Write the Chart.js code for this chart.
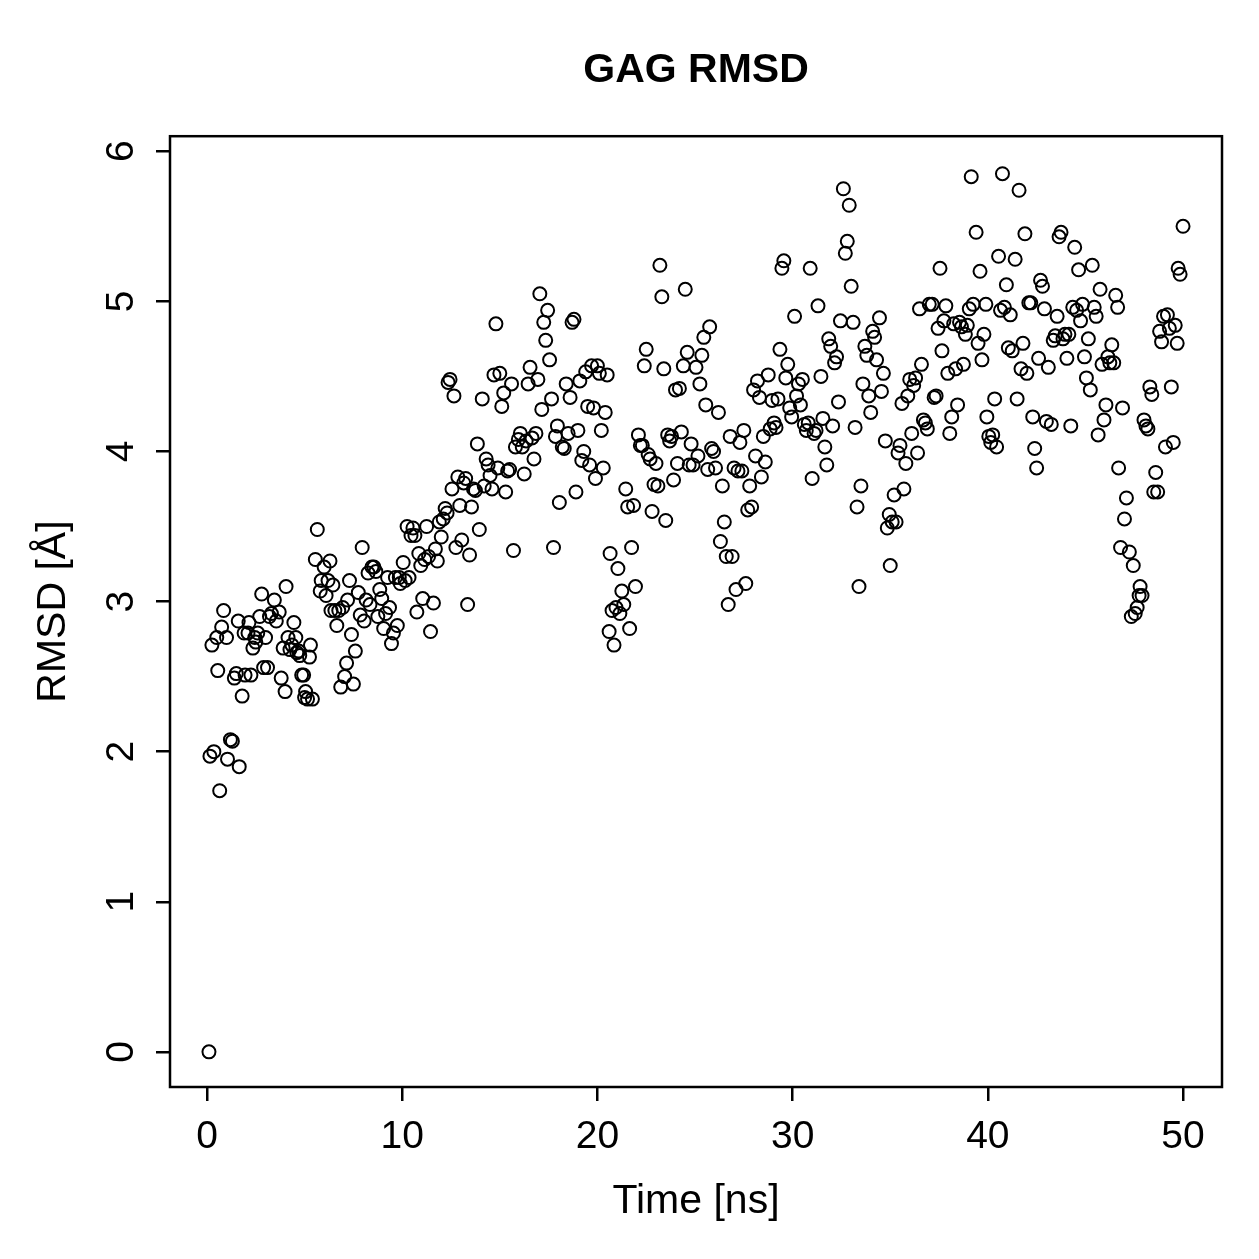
<!DOCTYPE html>
<html>
<head>
<meta charset="utf-8">
<title>GAG RMSD</title>
<script src="https://cdn.jsdelivr.net/npm/chart.js@4.4.0/dist/chart.umd.min.js"></script>
<style>
html, body { margin: 0; padding: 0; background: #fff; }
canvas { display: block; }
</style>
</head>
<body>
<canvas id="rmsdChart" width="1259" height="1259"></canvas>
<script>
// values, time in ns and RMSD in Angstrom
const timeNs = [
  0.1, 0.15, 0.25, 0.35, 0.5, 0.55, 0.65, 0.75, 0.85, 1.0, 1.05, 1.2, 1.3, 1.4, 1.5, 1.6, 1.65, 1.8, 1.9, 1.95,
  2.1, 2.15, 2.25, 2.35, 2.45, 2.5, 2.6, 2.7, 2.8, 2.9, 3.0, 3.1, 3.2, 3.3, 3.45, 3.55, 3.7, 3.8, 3.9, 4.0,
  4.05, 4.15, 4.25, 4.35, 4.45, 4.55, 4.6, 4.7, 4.75, 4.85, 4.95, 5.0,
  5.05, 5.15, 5.25, 5.3, 5.4, 5.55, 5.65, 5.8, 5.85, 6.0, 6.1, 6.2, 6.3, 6.35, 6.45, 6.55, 6.65, 6.75, 6.85, 6.95,
  7.05, 7.15, 7.2, 7.3, 7.4, 7.5, 7.6, 7.75, 7.85, 7.95, 8.05, 8.15, 8.25, 8.35, 8.45, 8.55, 8.65, 8.75, 8.85, 8.95,
  9.05, 9.15, 9.25, 9.35, 9.45, 9.55, 9.65, 9.75, 9.85, 9.9,
  10.05, 10.15, 10.25, 10.35, 10.45, 10.55, 10.65, 10.75, 10.85, 10.95, 11.05, 11.15, 11.25, 11.35, 11.45, 11.6,
  11.7, 11.8, 11.9, 12.0, 12.1, 12.2, 12.3, 12.35, 12.45, 12.55, 12.65, 12.75, 12.85, 12.95, 13.05, 13.15, 13.25,
  13.35, 13.45, 13.55, 13.65, 13.75, 13.85, 13.95, 14.1, 14.2, 14.3, 14.4, 14.5, 14.6, 14.7, 14.8, 14.9,
  15.0, 15.1, 15.2, 15.3, 15.4, 15.5, 15.6, 15.7, 15.8, 15.95, 16.05, 16.15, 16.25, 16.35, 16.45, 16.55, 16.65,
  16.75, 16.85, 16.95, 17.05, 17.15, 17.25, 17.35, 17.45, 17.55, 17.65, 17.75, 17.85, 17.95, 18.05, 18.2, 18.3,
  18.4, 18.5, 18.6, 18.7, 18.8, 18.9, 19.0, 19.1, 19.2, 19.3, 19.4, 19.5, 19.6, 19.7, 19.8, 19.9,
  20.0, 20.1, 20.2, 20.3, 20.4, 20.5, 20.6, 20.65, 20.75, 20.85, 20.95, 21.05, 21.15, 21.25, 21.35, 21.45, 21.55,
  21.65, 21.75, 21.85, 21.95, 22.1, 22.2, 22.3, 22.4, 22.5, 22.6, 22.7, 22.8, 22.9, 23.0, 23.1, 23.2, 23.3, 23.4,
  23.5, 23.6, 23.7, 23.8, 23.9, 24.0, 24.1, 24.2, 24.3, 24.4, 24.5, 24.6, 24.7, 24.8, 24.9,
  25.05, 25.15, 25.25, 25.35, 25.45, 25.55, 25.65, 25.75, 25.85, 25.95, 26.05, 26.2, 26.3, 26.4, 26.5, 26.6, 26.7,
  26.8, 26.9, 27.0, 27.1, 27.2, 27.3, 27.4, 27.5, 27.6, 27.7, 27.8, 27.9, 28.0, 28.1, 28.2, 28.3, 28.4, 28.5,
  28.6, 28.75, 28.85, 28.95, 29.05, 29.15, 29.25, 29.35, 29.45, 29.55, 29.65, 29.75, 29.85, 29.95,
  30.1, 30.2, 30.3, 30.4, 30.5, 30.6, 30.7, 30.8, 30.9, 31.0, 31.1, 31.2, 31.3, 31.45, 31.55, 31.65, 31.75, 31.85,
  31.95, 32.05, 32.15, 32.25, 32.35, 32.45, 32.6, 32.7, 32.8, 32.9, 33.0, 33.1, 33.2, 33.3, 33.4, 33.5, 33.6, 33.7,
  33.8, 33.9, 34.0, 34.1, 34.2, 34.3, 34.45, 34.55, 34.65, 34.75, 34.85, 34.95,
  35.0, 35.1, 35.2, 35.3, 35.4, 35.5, 35.6, 35.7, 35.8, 35.9, 36.0, 36.1, 36.2, 36.3, 36.4, 36.5, 36.6, 36.7,
  36.8, 36.9, 37.0, 37.15, 37.25, 37.35, 37.45, 37.55, 37.65, 37.75, 37.85, 37.95, 38.05, 38.15, 38.25, 38.35,
  38.45, 38.55, 38.65, 38.75, 38.85, 38.95, 39.05, 39.15, 39.25, 39.4, 39.5, 39.6, 39.7, 39.8, 39.9, 39.95,
  40.05, 40.15, 40.25, 40.35, 40.45, 40.55, 40.65, 40.75, 40.85, 40.95, 41.05, 41.15, 41.25, 41.4, 41.5, 41.6,
  41.7, 41.8, 41.9, 42.0, 42.1, 42.2, 42.3, 42.4, 42.5, 42.6, 42.7, 42.8, 42.9, 43.0, 43.1, 43.25, 43.35, 43.45,
  43.55, 43.65, 43.75, 43.85, 43.95, 44.05, 44.15, 44.25, 44.35, 44.45, 44.55, 44.65, 44.75, 44.85, 44.95,
  45.05, 45.15, 45.25, 45.35, 45.45, 45.55, 45.65, 45.75, 45.85, 45.95, 46.05, 46.15, 46.25, 46.35, 46.45, 46.55,
  46.65, 46.7, 46.8, 46.9, 47.0, 47.1, 47.25, 47.35, 47.45, 47.55, 47.65, 47.75, 47.8, 47.9, 48.0, 48.1, 48.2,
  48.3, 48.4, 48.5, 48.6, 48.7, 48.8, 48.9, 49.0, 49.1, 49.2, 49.3, 49.4, 49.5, 49.6, 49.7, 49.75, 49.85, 50.0
];
const rmsdA = [
  0.00, 1.97, 2.71, 2.00, 2.76, 2.54, 1.74, 2.83, 2.94, 2.76, 1.95, 2.08, 2.07, 2.49, 2.52, 2.87, 1.90, 2.37, 2.79, 2.51,
  2.79, 2.86, 2.51, 2.69, 2.76, 2.73, 2.79, 2.90, 3.05, 2.56, 2.76, 2.56, 2.90, 2.92, 3.01, 2.87, 2.93, 2.49, 2.69, 2.40,
  3.10, 2.76, 2.68, 2.71, 2.86, 2.76, 2.66, 2.67, 2.64, 2.51, 2.51, 2.36,
  2.40, 2.35, 2.63, 2.71, 2.35, 3.28, 3.48, 3.07, 3.14, 3.23, 3.04, 3.14, 3.27, 2.94, 3.11, 2.94, 2.84, 2.94, 2.43, 2.96,
  2.50, 2.59, 3.01, 3.14, 2.78, 2.45, 2.67, 3.06, 2.91, 3.36, 2.87, 3.01, 3.19, 2.98, 3.23, 3.23, 3.20, 2.90, 3.08, 3.02,
  2.82, 2.92, 3.16, 2.96, 2.72, 2.79, 3.16, 2.84, 3.16, 3.12,
  3.26, 3.14, 3.50, 3.16, 3.44, 3.49, 3.44, 2.93, 3.32, 3.24, 3.02, 3.28, 3.50, 3.30, 2.80, 2.99,
  3.35, 3.27, 3.53, 3.43, 3.55, 3.62, 3.59, 4.46, 4.48, 3.75, 4.37, 3.36, 3.83, 3.64, 3.41, 3.79, 3.82,
  2.98, 3.31, 3.63, 3.75, 3.74, 4.05, 3.48, 4.35, 3.77, 3.95, 3.91, 3.84, 3.75, 4.51, 4.85, 3.89,
  4.52, 4.30, 4.39, 3.73, 3.87, 3.88, 4.45, 3.34, 4.03, 4.08, 4.12, 4.03, 3.85, 4.07, 4.45, 4.56, 4.09,
  3.95, 4.12, 4.48, 5.05, 4.28, 4.86, 4.74, 4.94, 4.61, 4.35, 3.36, 4.10, 4.17, 3.66, 4.03, 4.02,
  4.45, 4.12, 4.36, 4.86, 4.88, 3.73, 4.14, 4.47, 3.94, 4.00, 4.53, 4.30, 3.91, 4.57, 4.29, 3.82,
  4.57, 4.52, 4.14, 3.89, 4.26, 4.51, 2.80, 3.32, 2.94, 2.71, 2.96, 3.22, 2.92, 3.07, 2.98, 3.75, 3.63,
  2.82, 3.36, 3.64, 3.10, 4.11, 4.04, 4.04, 4.57, 4.68, 3.98, 3.95, 3.60, 3.78, 3.92, 3.77, 5.24, 5.03, 4.55,
  3.54, 4.11, 4.07, 4.10, 3.81, 4.41, 3.92, 4.42, 4.13, 4.57, 5.08, 4.66, 3.91, 4.05, 3.91,
  4.56, 3.97, 4.45, 4.64, 4.76, 4.31, 3.88, 4.83, 4.02, 4.00, 3.89, 4.26, 3.40, 3.77, 3.53, 3.30, 2.98,
  4.10, 3.30, 3.89, 3.08, 3.87, 4.06, 3.87, 4.14, 3.12, 3.61, 3.77, 3.63, 4.41, 3.97, 4.47, 4.36, 3.83, 4.10,
  3.93, 4.51, 4.15, 4.34, 4.19, 4.16, 4.35, 4.68, 5.22, 5.27, 4.49, 4.58, 4.29, 4.23,
  4.90, 4.37, 4.45, 4.31, 4.48, 4.18, 4.14, 4.19, 5.22, 3.82, 4.12, 4.14, 4.97, 4.50, 4.22, 4.03, 3.91, 4.75,
  4.70, 4.17, 4.59, 4.63, 4.33, 4.87, 5.75, 5.32, 5.40, 5.64, 5.10, 4.86, 4.16, 3.63, 3.10, 3.77, 4.45, 4.70,
  4.64, 4.37, 4.26, 4.80, 4.76, 4.61, 4.89, 4.40, 4.52, 4.07, 3.49, 3.58,
  3.24, 3.53, 3.71, 3.53, 3.99, 4.04, 4.32, 3.75, 3.92, 4.37, 4.48, 4.12, 4.44, 4.49, 3.99, 4.95, 4.58, 4.21,
  4.19, 4.15, 4.98, 4.98, 4.36, 4.37, 4.82, 5.22, 4.67, 4.87, 4.97, 4.52, 4.12, 4.23, 4.85, 4.55,
  4.31, 4.86, 4.83, 4.58, 4.78, 4.84, 4.95, 5.83, 4.98, 5.46, 4.72, 5.20, 4.61, 4.78, 4.98, 4.23,
  4.10, 4.06, 4.11, 4.35, 4.03, 5.30, 4.94, 5.85, 4.96, 5.11, 4.69, 4.91, 4.67, 5.28, 4.35, 5.74,
  4.55, 4.72, 5.45, 4.52, 4.99, 4.99, 4.23, 4.02, 3.89, 4.62, 5.14, 5.10, 4.95, 4.20, 4.56, 4.18, 4.74, 4.77,
  4.90, 5.43, 5.46, 4.75, 4.78, 4.62, 4.78, 4.17, 4.96, 5.36, 4.94, 5.21, 4.87, 4.98, 4.63,
  4.49, 4.75, 4.41, 5.24, 4.96, 4.90, 4.11, 5.08, 4.58, 4.21, 4.31, 4.63, 4.59, 4.71, 4.59, 5.04,
  4.96, 3.89, 3.36, 4.29, 3.55, 3.69, 3.33, 2.90, 3.24, 2.92, 2.96, 3.04, 3.10, 3.04, 4.21, 4.17, 4.15,
  4.43, 4.38, 3.73, 3.86, 3.73, 4.80, 4.73, 4.90, 4.03, 4.91, 4.82, 4.43, 4.06, 4.84, 4.72, 5.22, 5.18, 5.50
];
const xTicks = [0, 10, 20, 30, 40, 50];
const yTicks = [0, 1, 2, 3, 4, 5, 6];
const chartTitle = "GAG RMSD";
const xLabel = "Time [ns]";
const yLabel = "RMSD [Å]";

const fontFamily = "'Liberation Sans', Arial, Helvetica, sans-serif";

const points = timeNs.map((t, i) => ({ x: t, y: rmsdA[i] }));

// R style: box round the plot, y tick labels turned parallel to the axis
const rBox = {
    id: "rBox",
    afterDraw(chart) {
        const ctx = chart.ctx;
        const a = chart.chartArea;
        ctx.save();
        ctx.strokeStyle = "#000";
        ctx.lineWidth = 2.5;
        ctx.strokeRect(a.left, a.top, a.right - a.left, a.bottom - a.top);

        const ys = chart.scales.y;
        ctx.fillStyle = "#000";
        ctx.font = "39px " + fontFamily;
        ctx.textAlign = "center";
        ctx.textBaseline = "alphabetic";
        yTicks.forEach(v => {
            const py = ys.getPixelForValue(v);
            ctx.save();
            ctx.translate(133, py);
            ctx.rotate(-Math.PI / 2);
            ctx.fillText(String(v), 0, 0);
            ctx.restore();
        });
        ctx.restore();
    }
};

new Chart(document.getElementById("rmsdChart").getContext("2d"), {
    type: "scatter",
    data: {
        datasets: [{
            data: points,
            pointStyle: "circle",
            pointRadius: 6.5,
            pointBorderWidth: 2,
            pointBorderColor: "#000",
            pointBackgroundColor: "rgba(0,0,0,0)",
            pointHoverRadius: 6.5,
        }],
    },
    options: {
        responsive: false,
        animation: false,
        devicePixelRatio: 1,
        layout: { padding: { top: 0, right: 37, bottom: 0, left: 0 } },
        plugins: {
            legend: { display: false },
            tooltip: { enabled: false },
            title: {
                display: true,
                text: chartTitle,
                fullSize: false,
                color: "#000",
                font: { family: fontFamily, size: 41, weight: "bold" },
                padding: { top: 46, bottom: 41 },
            },
        },
        scales: {
            x: {
                type: "linear",
                min: -1.896,
                max: 51.996,
                afterBuildTicks: s => { s.ticks = xTicks.map(v => ({ value: v })); },
                afterFit: s => { s.height = 172; },
                border: { display: false },
                grid: {
                    drawOnChartArea: false,
                    drawTicks: true,
                    tickLength: 14,
                    color: "#000",
                    lineWidth: 2.5,
                },
                ticks: {
                    color: "#000",
                    padding: 13,
                    maxRotation: 0,
                    font: { family: fontFamily, size: 39 },
                },
                title: {
                    display: true,
                    text: xLabel,
                    color: "#000",
                    font: { family: fontFamily, size: 41 },
                    padding: { bottom: 33 },
                },
            },
            y: {
                type: "linear",
                min: -0.234,
                max: 6.10,
                afterBuildTicks: s => { s.ticks = yTicks.map(v => ({ value: v })); },
                afterFit: s => { s.width = 170; },
                border: { display: false },
                grid: {
                    drawOnChartArea: false,
                    drawTicks: true,
                    tickLength: 14,
                    color: "#000",
                    lineWidth: 2.5,
                },
                ticks: { display: false },
                title: {
                    display: true,
                    text: yLabel,
                    color: "#000",
                    font: { family: fontFamily, size: 41 },
                    padding: { top: 29 },
                },
            },
        },
    },
    plugins: [rBox],
});
</script>
</body>
</html>
